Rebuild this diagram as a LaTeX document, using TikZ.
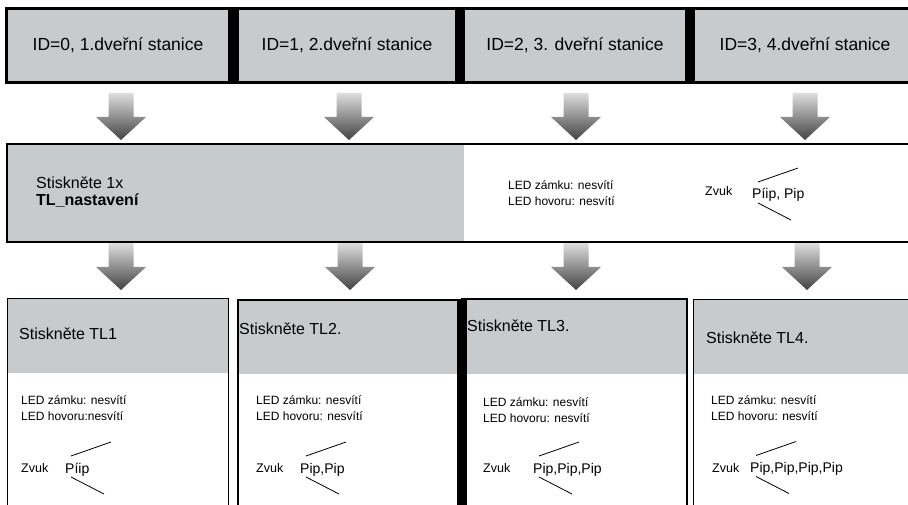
\documentclass[tikz,border=0pt]{standalone}
\usepackage{fontspec}
\setmainfont{Liberation Sans}
\usepackage{xcolor}
\usetikzlibrary{positioning}
\usetikzlibrary{calc}
\usetikzlibrary{math}

\definecolor{panelgray}{RGB}{200,203,206}
\definecolor{arrowtop}{RGB}{222,222,222}
\definecolor{arrowbot}{RGB}{66,66,66}

\tikzset{
  idbox/.style={fill=panelgray, minimum height=71, inner sep=0,
    text height=10pt, text depth=0pt, font=\fontsize{17.5}{21}\selectfont},
  presstxt/.style={anchor=base west, inner sep=0, font=\fontsize{16}{19}\selectfont},
  ledtxt/.style={anchor=base west, inner sep=0, font=\fontsize{12}{14}\selectfont},
  zvuktxt/.style={anchor=base west, inner sep=0, font=\fontsize{12.5}{15}\selectfont},
  beeptxt/.style={anchor=base west, inner sep=0, font=\fontsize{14}{17}\selectfont},
  tone/.style={line width=0.8},
}

\begin{document}
\begin{tikzpicture}[x=1pt,y=-1pt]

  \tikzmath{
    \shaftw = 12.5; % half width of arrow shaft
    \shaftl = 24;   % length of arrow shaft
    \headw  = 25;   % half width of arrow head
    \arrowl = 47;   % total length of arrow
  }

  \useasboundingbox (0,0) rectangle (908,505);
  \clip (0,0) rectangle (908,505);

  % top row, ID of door stations
  \fill[black] (5,7) rectangle (912,84);
  \node[idbox, minimum width=220] (id0) at (118,45.5) {ID=0, 1.dveřní stanice};
  \node[idbox, minimum width=216] (id1) at (347,45.5) {ID=1, 2.dveřní stanice};
  \node[idbox, minimum width=220] (id2) at (575,45.5) {ID=2, 3. dveřní stanice};
  \node[idbox, minimum width=220] (id3) at (805,45.5) {ID=3, 4.dveřní stanice};

  % block arrows
  \foreach \ax/\ay in {121/93, 349/93, 576/93, 805/93,
                       121/243, 350/243, 576/243, 807/243}
    \path[top color=arrowtop, bottom color=arrowbot]
      ({\ax-\shaftw},\ay) -- ({\ax+\shaftw},\ay) -- ({\ax+\shaftw},{\ay+\shaftl})
      -- ({\ax+\headw},{\ay+\shaftl}) -- (\ax,{\ay+\arrowl})
      -- ({\ax-\headw},{\ay+\shaftl}) -- ({\ax-\shaftw},{\ay+\shaftl}) -- cycle;

  % middle band, setting mode
  \fill[panelgray] (7,144) rectangle (464,242);
  \draw[line width=1.5] (912,144) -- (7,144) -- (7,242) -- (912,242);

  \node[presstxt] (press) at (36,188.7) {Stiskněte 1x};
  \node[presstxt, font=\fontsize{16}{19}\selectfont\bfseries] (setkey) at (36,205.7) {TL\_nastavení};
  \node[ledtxt] (lock0) at (508,189.3) {LED zámku: nesvítí};
  \node[ledtxt] (call0) at (508,205.3) {LED hovoru: nesvítí};
  \node[zvuktxt] (zvuk0) at (705,195.5) {Zvuk};
  \node[beeptxt] (beep0) at (752,199) {Píip, Pip};

  % bottom row, one panel for each station
  \fill[panelgray] (7,298) rectangle (228,373);
  \draw[line width=1] (7,298) rectangle (228,520);

  \fill[panelgray] (238,300) rectangle (458,374);
  \draw[line width=2] (238,300) rectangle (458,520);

  \fill[panelgray] (467,299) rectangle (687,374);
  \draw[line width=2] (462,299) rectangle (687,520);
  \fill[black] (458,299) rectangle (467,520);

  \fill[panelgray] (693,299) rectangle (912,374);
  \draw[line width=1] (693,299) rectangle (914,520);

  \node[presstxt] (tl1) at (19,339.7) {Stiskněte TL1};
  \node[presstxt] (tl2) at (239,334.7) {Stiskněte TL2.};
  \node[presstxt] (tl3) at (467,331.7) {Stiskněte TL3.};
  \node[presstxt] (tl4) at (706,343.7) {Stiskněte TL4.};

  \node[ledtxt] (lock1) at (21,404.3) {LED zámku: nesvítí};
  \node[ledtxt] (call1) at (21,420.3) {LED hovoru:nesvítí};
  \node[ledtxt] (lock2) at (256,404.3) {LED zámku: nesvítí};
  \node[ledtxt] (call2) at (256,420.3) {LED hovoru: nesvítí};
  \node[ledtxt] (lock3) at (483,406.3) {LED zámku: nesvítí};
  \node[ledtxt] (call3) at (483,422.3) {LED hovoru: nesvítí};
  \node[ledtxt] (lock4) at (711,404.3) {LED zámku: nesvítí};
  \node[ledtxt] (call4) at (711,420.3) {LED hovoru: nesvítí};

  \node[zvuktxt] (zvuk1) at (21,472.5) {Zvuk};
  \node[beeptxt] (beep1) at (65,473) {Píip};
  \node[zvuktxt] (zvuk2) at (256,472.5) {Zvuk};
  \node[beeptxt] (beep2) at (300,473) {Pip,Pip};
  \node[zvuktxt] (zvuk3) at (483,472.5) {Zvuk};
  \node[beeptxt] (beep3) at (533,473) {Pip,Pip,Pip};
  \node[zvuktxt] (zvuk4) at (712,472) {Zvuk};
  \node[beeptxt] (beep4) at (750,472.5) {Pip,Pip,Pip,Pip};

  % sound strokes round the beeps
  \foreach \b in {beep0, beep1, beep2, beep3, beep4} {
    \draw[tone] ($ (\b.base west) + (6,-17) $) -- ++(40,-14);
    \draw[tone] ($ (\b.base west) + (6,4) $) -- ++(33,17);
  }

\end{tikzpicture}
\end{document}
